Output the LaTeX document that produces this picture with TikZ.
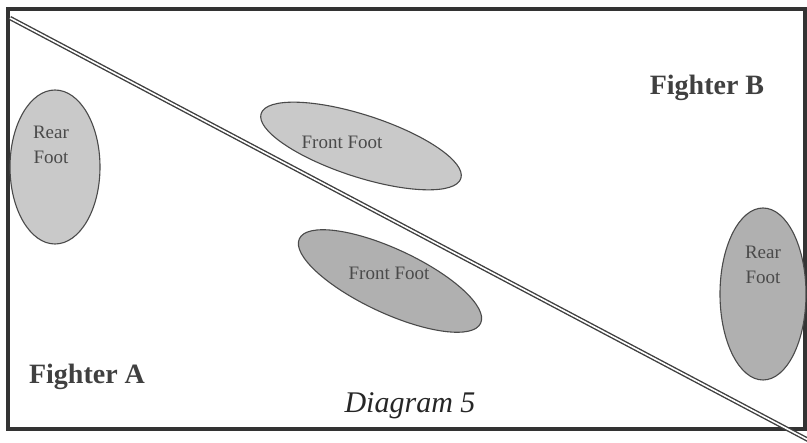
\documentclass[tikz,border=0pt]{standalone}
\usepackage{fontspec}
\setmainfont{Liberation Serif}
\usetikzlibrary{shapes.geometric}
\definecolor{footlight}{HTML}{C9C9C9}
\definecolor{footdark}{HTML}{B0B0B0}
\definecolor{edgegray}{HTML}{4A4A4A}
\definecolor{labelgray}{HTML}{4A4A4A}
\tikzset{
  foot/.style={draw=edgegray, line width=1.1pt},
  footlabel/.style={text=labelgray, font=\fontsize{19}{25}\selectfont, align=center, inner sep=0pt},
  fighter/.style={text=black!75, font=\fontsize{28}{30}\selectfont\bfseries, inner sep=0pt},
  caption/.style={text=black!85, font=\fontsize{30}{32}\selectfont\itshape, inner sep=0pt}
}
\begin{document}
\begin{tikzpicture}[x=1pt,y=-1pt]
\useasboundingbox (0,0) rectangle (807,443);
\fill[white] (0,0) rectangle (807,443);
% frame
\draw[line width=3.2pt, black!80] (8,9) rectangle (805,429);
% feet
\draw[foot, fill=footlight] (55,167) ellipse [x radius=45, y radius=77];
\draw[foot, fill=footlight, rotate around={-18:(361,146)}] (361,146) ellipse [x radius=105, y radius=31];
\draw[foot, fill=footdark, rotate around={-25:(390,281)}] (390,281) ellipse [x radius=100, y radius=32];
\draw[foot, fill=footdark] (763,294) ellipse [x radius=43, y radius=86];
% diagonal double line
\coordinate (d1) at (10,18);
\coordinate (d2) at (812,442);
\begin{scope}
\clip (0,0) rectangle (807,443);
\draw[line width=4.4pt, black!75] (d1) -- (d2);
\draw[line width=1.6pt, white] (d1) -- (d2);
\end{scope}
% labels
\node[footlabel] (rfA) at (51,145) {Rear\\Foot};
\node[footlabel] (ffB) at (342,142) {Front Foot};
\node[footlabel] (ffA) at (389,273) {Front Foot};
\node[footlabel] (rfB) at (763,265) {Rear\\Foot};
\node[fighter] (fB) at (707,88) {Fighter B};
\node[fighter] (fA) at (87,377) {Fighter A};
\node[caption] (cap) at (410,406) {Diagram 5};
\end{tikzpicture}
\end{document}
